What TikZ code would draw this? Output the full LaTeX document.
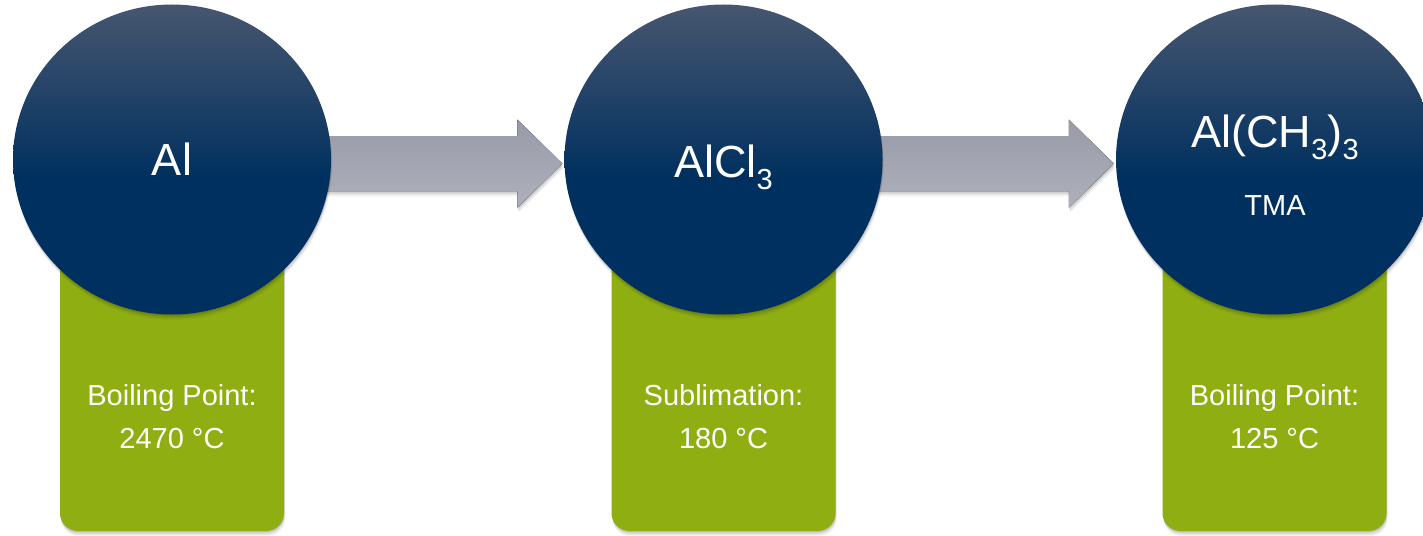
\documentclass[tikz,border=0pt]{standalone}
\usepackage{fontspec}
\setmainfont{Liberation Sans}
\usetikzlibrary{shapes.geometric,shadows,calc}
\definecolor{navy}{HTML}{00305F}
\definecolor{topblue}{HTML}{47566F}
\definecolor{leaf}{HTML}{8FAE12}
\definecolor{arrtop}{HTML}{989BA7}
\definecolor{arrbot}{HTML}{AEB1BC}
\pgfdeclareverticalshading{orbshade}{100bp}{color(0bp)=(navy); color(25bp)=(navy); color(47bp)=(navy); color(75bp)=(topblue); color(100bp)=(topblue)}
\begin{document}
\begin{tikzpicture}[x=1pt,y=-1pt,
  softshadow/.style={
    drop shadow={shadow xshift=0.3pt, shadow yshift=-1pt, opacity=0.10, fill=black},
    drop shadow={shadow xshift=0.6pt, shadow yshift=-2.5pt, opacity=0.08, fill=black},
    drop shadow={shadow xshift=0.9pt, shadow yshift=-4pt, opacity=0.06, fill=black},
    drop shadow={shadow xshift=1.2pt, shadow yshift=-5.5pt, opacity=0.04, fill=black}},
  orbgeom/.style={ellipse, minimum width=318pt, minimum height=310pt, inner sep=0pt},
  orb/.style={orbgeom, shading=orbshade, softshadow},
  card/.style={rectangle, rounded corners=18pt, minimum width=224pt, minimum height=281pt,
    inner sep=0pt, fill=leaf, softshadow},
  bigtxt/.style={text=white, font=\fontsize{45}{54}\selectfont, inner sep=0pt, anchor=base},
  smalltxt/.style={text=white, font=\fontsize{29}{36}\selectfont, inner sep=0pt, anchor=base},
  subnum/.style={font=\fontsize{29}{29}\selectfont},
  fatarrow/.style={top color=arrtop, bottom color=arrbot, softshadow}
]
\useasboundingbox (0,0) rectangle (1423,535);

% green cards
\node[card] (g1) at (172,390.5) {};
\node[card] (g2) at (723.5,390.5) {};
\node[card] (g3) at (1274.5,390.5) {};

% circle positions (invisible, for connecting arrows)
\node[orbgeom] (c1) at (172,159.5) {};
\node[orbgeom] (c2) at (723.5,159.5) {};
\node[orbgeom] (c3) at (1275,159.5) {};

% arrows
\coordinate (tip1) at ($(c2.west)+(-2,4)$);
\coordinate (tip2) at ($(c3.west)+(-2,4)$);
\fill[fatarrow] ($(c1.center)+(0,-23.5)$) -- ($(tip1)+(-45,-27.5)$) -- ($(tip1)+(-45,-44)$)
  -- (tip1) -- ($(tip1)+(-45,44)$) -- ($(tip1)+(-45,27.5)$) -- ($(c1.center)+(0,31.5)$) -- cycle;
\fill[fatarrow] ($(c2.center)+(0,-23.5)$) -- ($(tip2)+(-45,-27.5)$) -- ($(tip2)+(-45,-44)$)
  -- (tip2) -- ($(tip2)+(-45,44)$) -- ($(tip2)+(-45,27.5)$) -- ($(c2.center)+(0,31.5)$) -- cycle;

% circles drawn
\node[orb] (o1) at (c1) {};
\node[orb] (o2) at (c2) {};
\node[orb] (o3) at (c3) {};

% circle texts
\node[bigtxt] (n1) at (172,175) {Al};
\node[bigtxt] (n2) at (723.5,177) {AlCl\raisebox{-12pt}{\fontsize{29}{29}\selectfont 3}};
\node[bigtxt] (n3) at (1275,147) {Al(CH\raisebox{-12pt}{\fontsize{29}{29}\selectfont 3})\raisebox{-12pt}{\fontsize{29}{29}\selectfont 3}};
\node[smalltxt] (n3b) at (1275,215) {TMA};

% card texts
\node[smalltxt] (l1a) at (172,405) {Boiling Point:};
\node[smalltxt] (l1b) at (172,448) {2470 °C};
\node[smalltxt] (l2a) at (723.5,405) {Sublimation:};
\node[smalltxt] (l2b) at (723.5,448) {180 °C};
\node[smalltxt] (l3a) at (1274.5,405) {Boiling Point:};
\node[smalltxt] (l3b) at (1274.5,448) {125 °C};
\end{tikzpicture}
\end{document}
